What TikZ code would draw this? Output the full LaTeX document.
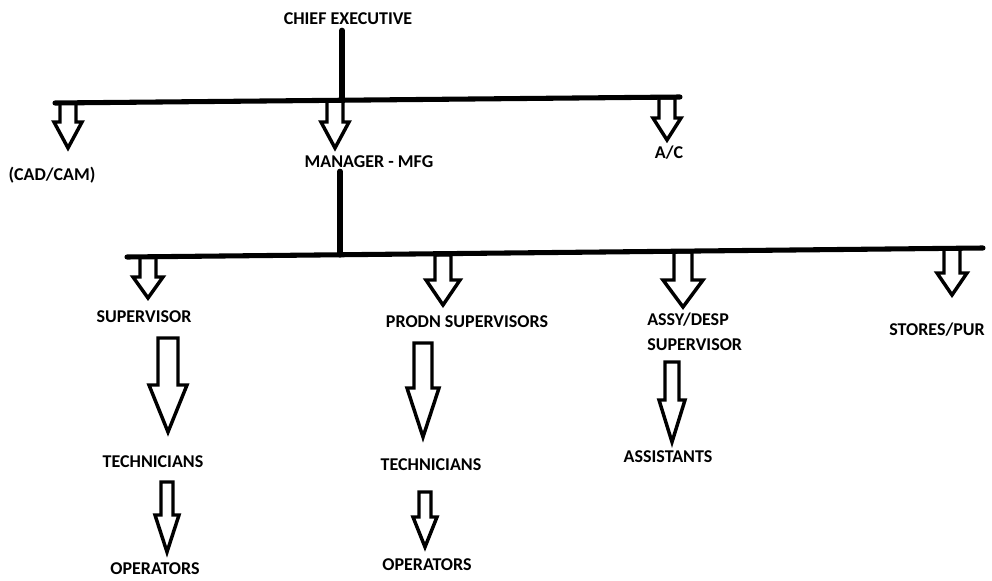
\documentclass[tikz,border=0pt]{standalone}
\usepackage{fontspec}
\setmainfont{Carlito}
\usetikzlibrary{calc}
\tikzset{
  lbl/.style={inner sep=0pt, font=\bfseries\fontsize{13.5}{18.75}\selectfont},
  bus/.style={line width=3.8pt, line cap=round},
  blk/.style={line width=2.6pt, fill=white, line join=miter},
}
% #1 start coord, #2 tip coord, #3 shaft half width, #4 head half width, #5 head length (px)
\newcommand{\blkarrow}[5]{%
  \draw[blk] let \p1=(#1), \p2=(#2) in
    (\x1-#3*0.75pt,\y1) -- (\x1+#3*0.75pt,\y1) -- (\x1+#3*0.75pt,\y2+#5*0.75pt)
    -- (\x1+#4*0.75pt,\y2+#5*0.75pt) -- (\x1,\y2) -- (\x1-#4*0.75pt,\y2+#5*0.75pt)
    -- (\x1-#3*0.75pt,\y2+#5*0.75pt) -- cycle;}
\begin{document}
\begin{tikzpicture}[x=0.75pt,y=-0.75pt]
\useasboundingbox (0,0) rectangle (992,581);
% labels
\node[lbl] (chief) at (348,19) {CHIEF EXECUTIVE};
\node[lbl] (cad) at (52,175) {(CAD/CAM)};
\node[lbl] (mgr) at (369,162) {MANAGER - MFG};
\node[lbl] (ac) at (669,153) {A/C};
\node[lbl] (sup) at (144,317) {SUPERVISOR};
\node[lbl] (prodn) at (467,322) {PRODN SUPERVISORS};
\node[lbl, anchor=west, align=left] (assy) at (647,332) {ASSY/DESP\\SUPERVISOR};
\node[lbl] (stores) at (937,330) {STORES/PUR};
\node[lbl] (tech1) at (153,462) {TECHNICIANS};
\node[lbl] (op1) at (155,569) {OPERATORS};
\node[lbl] (tech2) at (431,465) {TECHNICIANS};
\node[lbl] (op2) at (427,565) {OPERATORS};
\node[lbl] (asst) at (668,457) {ASSISTANTS};
% bus coordinates
\coordinate (t0) at (55,103);
\coordinate (t1) at (680,97);
\coordinate (j1) at (342,100);
\coordinate (m0) at (127,257);
\coordinate (m1) at (983,248);
\coordinate (j2) at (340,255);
% arrow start / tip coordinates
\coordinate (a1s) at (68,103);  \coordinate (a1t) at (68,148);
\coordinate (a2s) at (335,100); \coordinate (a2t) at (335,148);
\coordinate (a3s) at (667,98);  \coordinate (a3t) at (667,140);
\coordinate (b1s) at (148,257); \coordinate (b1t) at (148,298);
\coordinate (b2s) at (443,255); \coordinate (b2t) at (443,305);
\coordinate (b3s) at (683,252); \coordinate (b3t) at (683,307);
\coordinate (b4s) at (952,249); \coordinate (b4t) at (952,295);
\coordinate (c1s) at (168,338); \coordinate (c1t) at (168,432);
\coordinate (c2s) at (167,482); \coordinate (c2t) at (167,552);
\coordinate (c3s) at (423,343); \coordinate (c3t) at (423,437);
\coordinate (c4s) at (425,492); \coordinate (c4t) at (425,547);
\coordinate (c5s) at (672,362); \coordinate (c5t) at (672,442);
% block arrows
\blkarrow{a1s}{a1t}{8}{14}{26}
\blkarrow{a2s}{a2t}{8}{14}{26}
\blkarrow{a3s}{a3t}{8}{14}{22}
\blkarrow{b1s}{b1t}{8}{15}{21}
\blkarrow{b2s}{b2t}{8}{17}{25}
\blkarrow{b3s}{b3t}{9}{20}{27}
\blkarrow{b4s}{b4t}{8}{15}{22}
\blkarrow{c1s}{c1t}{10}{19}{47}
\blkarrow{c2s}{c2t}{6}{12}{37}
\blkarrow{c3s}{c3t}{9}{16}{49}
\blkarrow{c4s}{c4t}{6}{12}{30}
\blkarrow{c5s}{c5t}{7}{13}{42}
% bus lines
\draw[bus] (t0) -- (t1);
\draw[bus] (m0) -- (m1);
\draw[bus] ($(chief.south -| j1)+(0,5)$) -- (j1);
\draw[bus] ($(mgr.south -| j2)+(0,3)$) -- (j2);
\end{tikzpicture}
\end{document}
